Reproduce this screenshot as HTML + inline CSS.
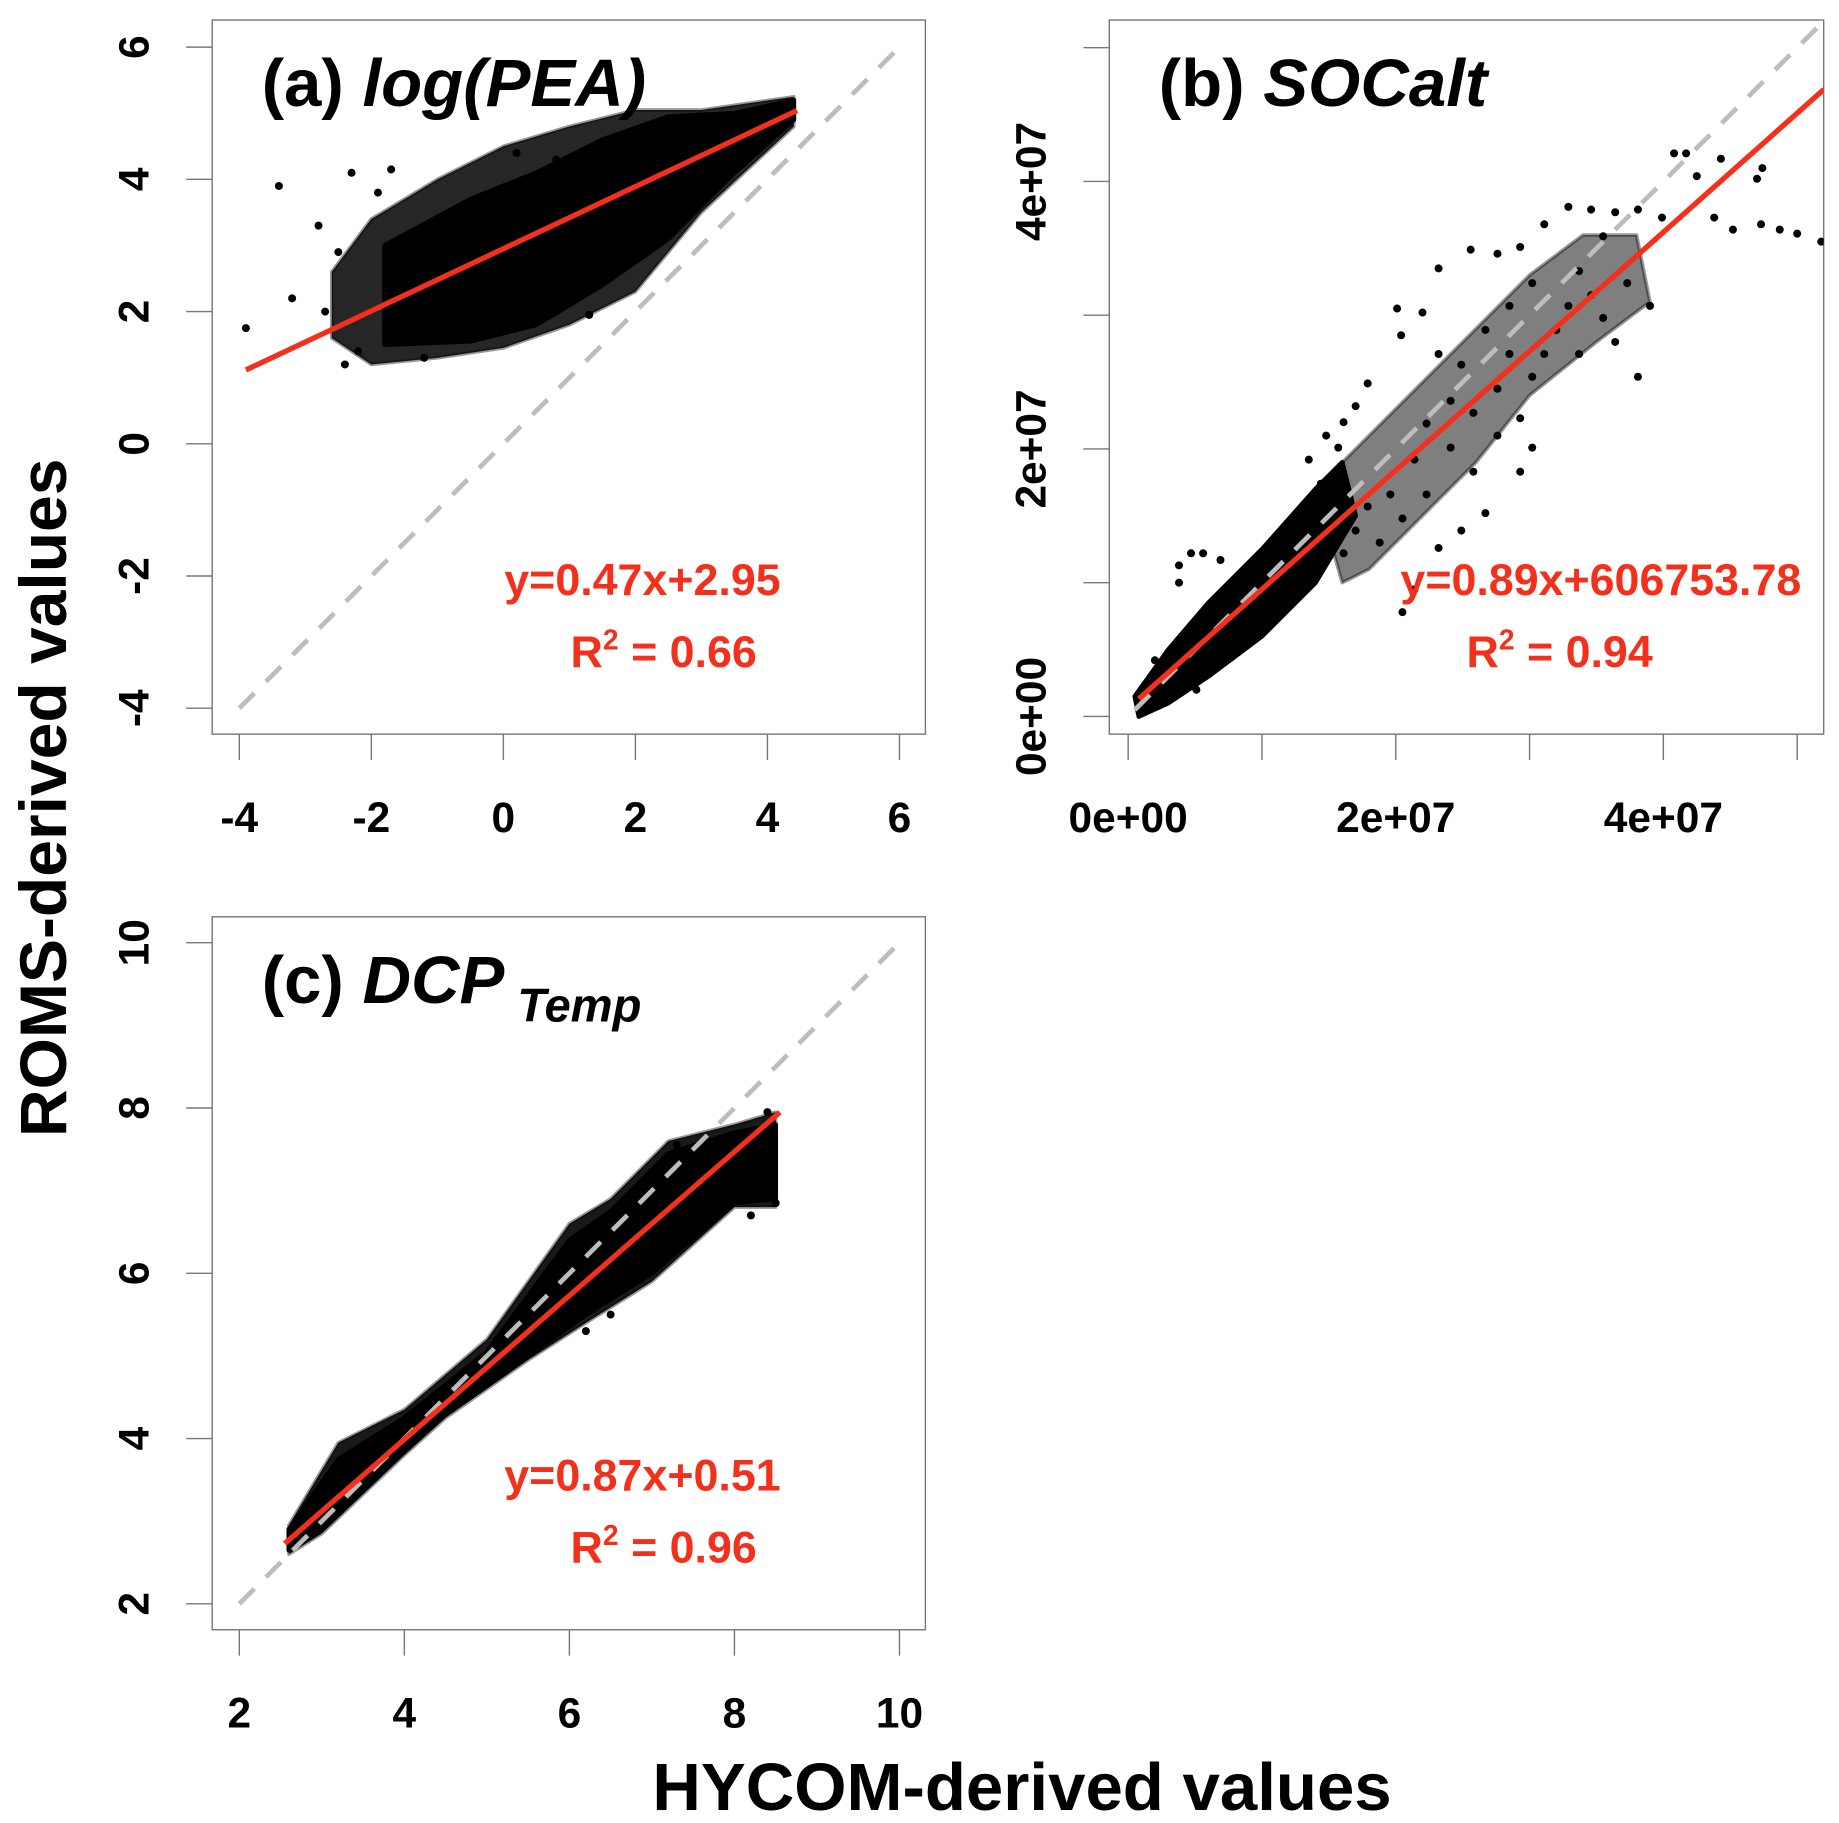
<!DOCTYPE html>
<html><head><meta charset="utf-8"><style>html,body{margin:0;padding:0;background:#fff}svg{display:block}text{font-family:"Liberation Sans",Arial,sans-serif;font-weight:bold}</style></head>
<body>
<svg id="fig" width="1839" height="1823" viewBox="0 0 1560 1547" preserveAspectRatio="none" xmlns="http://www.w3.org/2000/svg">
<text transform="translate(56,677) rotate(-90)" text-anchor="middle" font-size="56">ROMS-derived values</text>
<text x="867" y="1536" text-anchor="middle" font-size="57">HYCOM-derived values</text>
</svg>
<script>
// ---- Panel (a) data ----
const aTicks=[-4,-2,0,2,4,6];
const aFit=[0.47,2.95];
const aFitRange=[-3.9,4.45];
const aCore=[[-1.8,3.0],[-0.5,3.7],[0.5,4.1],[1.5,4.6],[2.5,4.95],[3.5,5.0],[4.4,5.2],[4.4,4.9],[3.5,4.1],[2.5,3.1],[1.5,2.4],[0.5,1.8],[-0.5,1.55],[-1.8,1.5]];
const aHalo=[[-2.6,2.6],[-2,3.4],[-1,4.0],[0,4.5],[1,4.8],[2,5.05],[3,5.05],[4.4,5.25],[4.4,4.8],[3,3.5],[2,2.3],[1,1.8],[0,1.45],[-1,1.3],[-2,1.2],[-2.6,1.6]];
const aPoints=[[-3.4,3.9],[-3.9,1.75],[-3.2,2.2],[-2.8,3.3],[-2.3,4.1],[-1.7,4.15],[-2.4,1.2],[-2.2,1.4],[0.8,4.3],[1.3,1.95],[-1.2,1.3],[-2.7,2.0],[-2.5,2.9],[-1.9,3.8],[0.2,4.4],[3.8,4.4]];
// ---- Panel (b) data (units of 1e6) ----
const bTicks=[0,10,20,30,40,50];
const bLabels=["0e+00","","2e+07","","4e+07",""];
const bFit=[0.89,0.60675378];
const bFitRange=[0.8,52];
const bCore=[[0.5,1.5],[3,5],[6,8.5],[10,12.5],[14,17],[16,19],[17,15],[14,10],[10,6],[6,3],[3,1],[0.8,0]];
const bHalo=[[14,17],[18,21],[22,25],[26,29],[30,33],[34,36],[38,36],[39,31],[35,28],[30,24],[26,19],[22,15],[18,11],[16,10]];
const bPoints=[[47.4,41.0],[47,40.2],[44.3,41.7],[40.8,42.1],[41.7,42.1],[47.3,36.8],[48.7,36.4],[50,36.1],[51.8,35.5],[45.2,36.4],[43.8,37.3],[42.5,40.4],[25.6,34.9],[23.2,33.5],[22,30.2],[20.4,28.5],[20.1,30.5],[17.9,24.9],[17,23.2],[16.1,22],[15.7,20.1],[26.7,15.2],[24.9,13.9],[23.2,12.6],[30.2,20.1],[29.3,22.3],[21.4,9.5],[20.5,7.8],[4.7,12.2],[5.6,12.2],[6.9,11.7],[3.8,11.3],[3.8,10],[2,4.2],[5.1,2],[2.9,1.6],[27.6,34.6],[29.3,35.1],[31.1,36.8],[32.9,38.1],[34.6,37.9],[36.4,37.7],[38.1,37.9],[39.9,37.3],[35.5,35.9],[33.7,33.3],[37.3,32.4],[39,30.7],[35.5,29.8],[32.9,30.7],[31.1,27.1],[28.5,27.1],[30.2,25.4],[27.6,24.5],[25.8,22.7],[24.1,23.6],[32,28.9],[33.7,27.1],[38.1,25.4],[36.4,28],[34.6,31.5],[30.2,32.4],[28.5,30.7],[26.7,28.9],[24.9,26.3],[23.2,27.1],[22.3,21.9],[24.1,20.1],[25.8,18.3],[27.6,21],[29.3,18.3],[21.4,19.2],[19.6,16.6],[17.9,15.7],[17,13.9],[16.1,12.2],[18.8,13],[20.5,14.8],[22.3,16.6],[15.2,14.8],[14.4,17.4],[13.5,19.2],[14.8,21]];
// ---- Panel (c) data ----
const cTicks=[2,4,6,8,10];
const cFit=[0.87,0.51];
const cFitRange=[2.55,8.55];
const cCore=[[2.6,2.9],[3.2,3.75],[4.0,4.25],[5.0,5.05],[6.0,6.4],[6.5,6.75],[7.2,7.45],[8.0,7.7],[8.5,7.8],[8.5,6.9],[8.0,6.85],[7.0,6.0],[6.2,5.5],[5.5,5.0],[4.5,4.3],[4.0,3.85],[3.0,2.9],[2.6,2.65]];
const cHalo=[[2.6,2.95],[3.2,3.95],[4.0,4.35],[5.0,5.2],[6.0,6.6],[6.5,6.9],[7.2,7.6],[8.0,7.8],[8.5,7.95],[8.5,6.8],[8.0,6.8],[7.0,5.9],[6.2,5.4],[5.5,4.95],[4.5,4.25],[4.0,3.8],[3.0,2.85],[2.6,2.6]];
const cPoints=[[8.5,6.85],[8.4,7.95],[6.2,5.3],[6.5,5.5],[7.3,7.55],[5.3,5.4],[8.2,6.7]];

const NS="http://www.w3.org/2000/svg";
const svg=document.getElementById('fig');
function mk(tag,attrs,parent){const e=document.createElementNS(NS,tag);for(const k in attrs)e.setAttribute(k,attrs[k]);(parent||svg).appendChild(e);return e;}
function scale(d0,d1,p0,p1){return v=>p0+(v-d0)*(p1-p0)/(d1-d0);}

function panel(cfg){
  const g=mk('g',{});
  
  
  const X=cfg.X,Y=cfg.Y,b=cfg.box;
  const box=mk('rect',{x:b[0],y:b[1],width:b[2]-b[0],height:b[3]-b[1],fill:'none',stroke:'#777','stroke-width':1.2},g);
  
  
  cfg.xt.forEach((t,i)=>{
    const px=X(t);
    const l=mk('line',{x1:px,x2:px,y1:b[3],y2:b[3]+22,stroke:'#777','stroke-width':1.2},g);
    
    
    const lab=cfg.xl?cfg.xl[i]:String(t);
    if(lab){const tx=mk('text',{x:px,y:b[3]+83,'text-anchor':'middle','font-size':36},g);tx.textContent=lab;
      
      }
  });
  cfg.yt.forEach((t,i)=>{
    const py=Y(t);
    const l=mk('line',{x1:b[0]-22,x2:b[0],y1:py,y2:py,stroke:'#777','stroke-width':1.2},g);
    
    
    const lab=cfg.yl?cfg.yl[i]:String(t);
    if(lab){const tx=mk('text',{transform:`translate(${b[0]-54},${py}) rotate(-90)`,'text-anchor':'middle','font-size':36},g);tx.textContent=lab;
      
      }
  });
  const clip=mk('clipPath',{id:cfg.name+'-clip'},g);
  mk('rect',{x:b[0],y:b[1],width:b[2]-b[0],height:b[3]-b[1]},clip);
  const inner=mk('g',{'clip-path':`url(#${cfg.name}-clip)`},g);
  const halo=mk('polygon',{points:cfg.halo.map(p=>X(p[0])+','+Y(p[1])).join(' '),fill:'#000','fill-opacity':cfg.ho,stroke:'#000','stroke-width':3,'stroke-opacity':0.4,'stroke-linejoin':'round'},inner);
  
  
  const core=mk('polygon',{points:cfg.core.map(p=>X(p[0])+','+Y(p[1])).join(' '),fill:'#000',stroke:'#000','stroke-width':4,'stroke-linejoin':'round'},inner);
  
  
  cfg.pts.forEach(p=>{
    const c=mk('circle',{cx:X(p[0]),cy:Y(p[1]),r:3.4,fill:'#000'},inner);
    
    
  });
  const id=mk('line',{x1:X(cfg.idr[0]),y1:Y(cfg.idr[0]),x2:X(cfg.idr[1]),y2:Y(cfg.idr[1]),stroke:'#bdbdbd','stroke-width':4,'stroke-dasharray':'18,14'},inner);
  
  
  const f=cfg.fit,r=cfg.fr;
  const fl=mk('line',{x1:X(r[0]),y1:Y(f[0]*r[0]+f[1]),x2:X(r[1]),y2:Y(f[0]*r[1]+f[1]),stroke:'#f2301b','stroke-width':4.5},inner);
  
  
  const tt=mk('text',{x:b[0]+42,y:b[1]+73,'font-size':57},g);
  
  
  tt.innerHTML=cfg.title;
  const e1=mk('text',{x:cfg.eq[0],y:cfg.eq[1],'text-anchor':'middle','font-size':38,fill:'#f2301b'},g);
  e1.textContent=cfg.eqText;
  
  
  const e2=mk('text',{x:cfg.r2[0],y:cfg.r2[1],'text-anchor':'middle','font-size':38,fill:'#f2301b'},g);
  e2.innerHTML='R<tspan dy="-15" font-size="24">2</tspan><tspan dy="15"> = '+cfg.r2Text+'</tspan>';
  
  
}

panel({name:'panel-a-log-pea',box:[180,17,785,623],X:scale(-4,6,203,763),Y:scale(-4,6,601,40),xt:aTicks,yt:aTicks,ho:0.85,
  core:aCore,halo:aHalo,pts:aPoints,idr:[-4,6],fit:aFit,fr:aFitRange,
  title:'(a) <tspan font-style="italic">log(PEA)</tspan>',eq:[545,505],eqText:'y=0.47x+2.95',r2:[563,566],r2Text:'0.66'});
panel({name:'panel-b-socalt',box:[941,17,1547,623],X:scale(0,10,957,1070.5),Y:scale(0,10,608,494.5),xt:bTicks,yt:bTicks,xl:bLabels,yl:bLabels,ho:0.5,
  core:bCore,halo:bHalo,pts:bPoints,idr:[0.5,53],fit:bFit,fr:bFitRange,
  title:'(b) <tspan font-style="italic">SOCalt</tspan>',eq:[1358,505],eqText:'y=0.89x+606753.78',r2:[1323,566],r2Text:'0.94'});
panel({name:'panel-c-dcp-temp',box:[180,778,785,1383],X:scale(2,10,203,763),Y:scale(2,10,1361,800),xt:cTicks,yt:cTicks,ho:0.9,
  core:cCore,halo:cHalo,pts:cPoints,idr:[2,10],fit:cFit,fr:cFitRange,
  title:'(c) <tspan font-style="italic">DCP</tspan><tspan font-style="italic" font-size="40" dy="16"> Temp</tspan>',eq:[545,1265],eqText:'y=0.87x+0.51',r2:[563,1326],r2Text:'0.96'});
</script>
</body></html>
